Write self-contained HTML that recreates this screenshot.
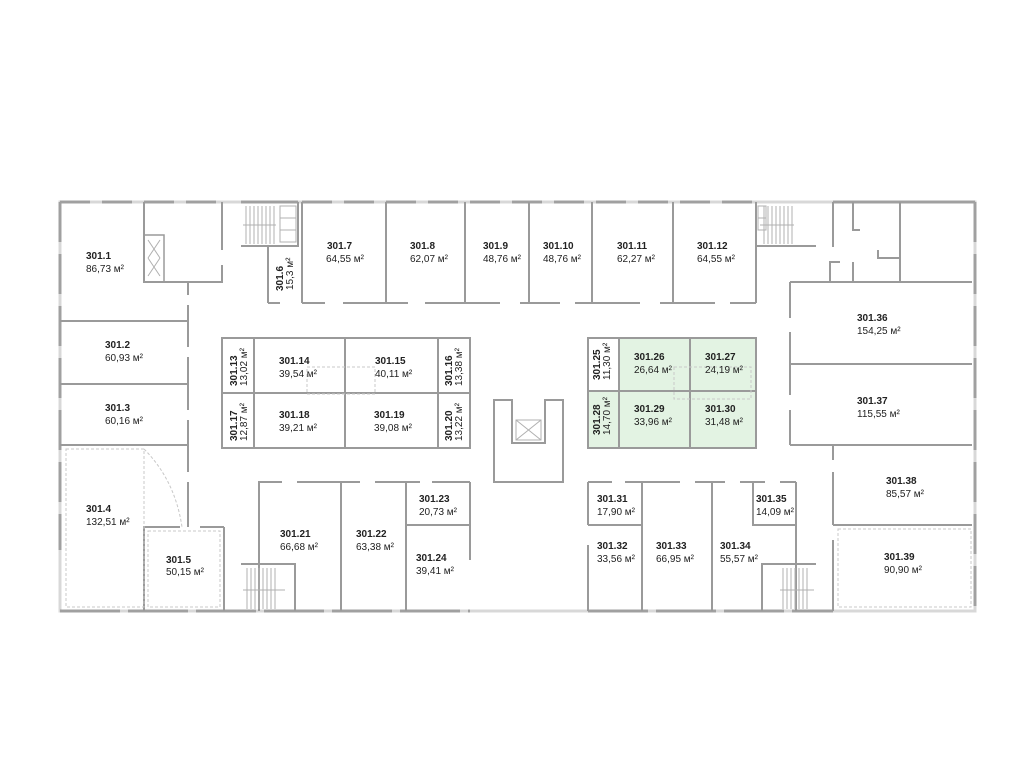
<!DOCTYPE html>
<html><head><meta charset="utf-8"><style>
html,body{margin:0;padding:0;background:#fff;}
svg{display:block;}
text{font-family:"Liberation Sans",sans-serif;font-size:10px;fill:#222;}
.b{font-weight:bold;}
</style></head><body>
<svg width="1024" height="768" viewBox="0 0 1024 768" xmlns="http://www.w3.org/2000/svg">
<!-- green rooms -->
<g fill="#e3f3e3" stroke="none">
<rect x="619" y="338" width="137" height="110"/>
<rect x="588" y="391" width="31" height="57"/>
</g>
<!-- outer walls light -->
<g stroke="#d8d8d8" stroke-width="3" fill="none">
<rect x="60" y="202" width="915" height="409"/>
</g>
<!-- outer walls dark dashes -->
<g stroke="#a0a0a0" stroke-width="3" fill="none">
<line x1="60" y1="202" x2="222" y2="202" stroke-dasharray="30 12"/>
<line x1="241" y1="202" x2="298" y2="202"/>
<line x1="302" y1="202" x2="755" y2="202" stroke-dasharray="30 12"/>
<line x1="833" y1="202" x2="975" y2="202"/>
<line x1="975" y1="202" x2="975" y2="611" stroke-dasharray="40 12"/>
<line x1="60" y1="202" x2="60" y2="550" stroke-dasharray="40 12"/>
<line x1="60" y1="611" x2="470" y2="611" stroke-dasharray="60 8"/>
<line x1="588" y1="611" x2="833" y2="611" stroke-dasharray="60 8"/>
</g>
<!-- interior walls -->
<g stroke="#9a9a9a" stroke-width="2" fill="none">
<!-- left column -->
<polyline points="144,202 144,282 222,282 222,265"/>
<line x1="222" y1="202" x2="222" y2="250"/>
<rect x="144" y="235" width="20" height="47" stroke-width="1.5"/>
<line x1="188" y1="282" x2="188" y2="295"/>
<line x1="188" y1="305" x2="188" y2="347"/>
<line x1="188" y1="357" x2="188" y2="410"/>
<line x1="188" y1="420" x2="188" y2="472"/>
<line x1="188" y1="482" x2="188" y2="527"/>
<line x1="60" y1="321" x2="188" y2="321"/>
<line x1="60" y1="384" x2="188" y2="384"/>
<line x1="60" y1="445" x2="188" y2="445"/>
<polyline points="144,611 144,527 180,527"/>
<line x1="200" y1="527" x2="224" y2="527"/>
<line x1="224" y1="527" x2="224" y2="611"/>
<!-- top row -->
<polyline points="241,246 298,246 298,202"/>
<line x1="268" y1="246" x2="268" y2="303"/>
<line x1="268" y1="303" x2="280" y2="303"/>
<line x1="302" y1="202" x2="302" y2="303"/>
<line x1="302" y1="303" x2="325" y2="303"/>
<line x1="343" y1="303" x2="408" y2="303"/>
<line x1="425" y1="303" x2="500" y2="303"/>
<line x1="520" y1="303" x2="560" y2="303"/>
<line x1="575" y1="303" x2="640" y2="303"/>
<line x1="660" y1="303" x2="715" y2="303"/>
<line x1="730" y1="303" x2="756" y2="303"/>
<line x1="386" y1="202" x2="386" y2="303"/>
<line x1="465" y1="202" x2="465" y2="303"/>
<line x1="529" y1="202" x2="529" y2="303"/>
<line x1="592" y1="202" x2="592" y2="303"/>
<line x1="673" y1="202" x2="673" y2="303"/>
<line x1="756" y1="202" x2="756" y2="303"/>
<polyline points="756,246 816,246"/>
<!-- right service -->
<polyline points="833,202 833,247"/>
<polyline points="853,202 853,230 860,230"/>
<polyline points="900,202 900,282"/>
<polyline points="878,250 878,258 900,258"/>
<polyline points="830,282 830,262 840,262"/>
<polyline points="853,262 853,282"/>
<polyline points="790,282 972,282"/>
<!-- right rooms -->
<line x1="790" y1="282" x2="790" y2="318"/>
<line x1="790" y1="332" x2="790" y2="395"/>
<line x1="790" y1="410" x2="790" y2="445"/>
<line x1="790" y1="364" x2="972" y2="364"/>
<line x1="790" y1="445" x2="972" y2="445"/>
<line x1="833" y1="445" x2="833" y2="460"/>
<line x1="833" y1="472" x2="833" y2="525"/>
<line x1="833" y1="525" x2="972" y2="525"/>
<line x1="833" y1="540" x2="833" y2="611"/>
<!-- left central block -->
<rect x="222" y="338" width="248" height="110"/>
<line x1="222" y1="393" x2="470" y2="393"/>
<line x1="254" y1="338" x2="254" y2="448"/>
<line x1="345" y1="338" x2="345" y2="448"/>
<line x1="438" y1="338" x2="438" y2="448"/>
<!-- right central block -->
<rect x="588" y="338" width="168" height="110"/>
<line x1="588" y1="391" x2="756" y2="391"/>
<line x1="619" y1="338" x2="619" y2="448"/>
<line x1="690" y1="338" x2="690" y2="448"/>
<!-- core -->
<polygon points="494,400 512,400 512,443 545,443 545,400 563,400 563,482 494,482"/>
<!-- bottom left -->
<polyline points="259,611 259,482 282,482"/>
<line x1="297" y1="482" x2="360" y2="482"/>
<line x1="375" y1="482" x2="420" y2="482"/>
<line x1="432" y1="482" x2="470" y2="482"/>
<line x1="341" y1="482" x2="341" y2="611"/>
<line x1="406" y1="482" x2="406" y2="611"/>
<line x1="406" y1="525" x2="470" y2="525"/>
<line x1="470" y1="482" x2="470" y2="560"/>
<polyline points="241,564 295,564 295,611"/>
<!-- bottom right -->
<line x1="588" y1="482" x2="612" y2="482"/>
<line x1="625" y1="482" x2="680" y2="482"/>
<line x1="695" y1="482" x2="725" y2="482"/>
<line x1="740" y1="482" x2="765" y2="482"/>
<line x1="780" y1="482" x2="796" y2="482"/>
<line x1="588" y1="482" x2="588" y2="525"/>
<line x1="588" y1="545" x2="588" y2="611"/>
<line x1="588" y1="525" x2="642" y2="525"/>
<line x1="642" y1="482" x2="642" y2="611"/>
<line x1="712" y1="482" x2="712" y2="611"/>
<polyline points="753,482 753,525 796,525"/>
<line x1="796" y1="482" x2="796" y2="611"/>
<polyline points="762,611 762,564 816,564"/>
</g>
<!-- stairs -->
<g stroke="#b0b0b0" stroke-width="1">
<path d="M246 206V244M250 206V244M254 206V244M258 206V244M262 206V244M266 206V244M270 206V244M274 206V244M243 225H276"/>
<path d="M280 206h16v12h-16zM280 218h16v12h-16zM280 230h16v12h-16z" fill="none"/>
<path d="M764 206V244M768 206V244M772 206V244M776 206V244M780 206V244M784 206V244M788 206V244M792 206V244M760 225H794"/>
<path d="M758 206h8v12h-8zM758 218h8v12h-8z" fill="none"/>
<path d="M247 568V609M251 568V609M255 568V609M259 568V609M263 568V609M267 568V609M271 568V609M275 568V609M243 590H285"/>
<path d="M783 568V609M787 568V609M791 568V609M795 568V609M799 568V609M803 568V609M807 568V609M780 590H814"/>
<path d="M148 240l12 18M160 240l-12 18M148 258l12 18M160 258l-12 18M516 420h25v20h-25zM516 420l25 20M541 420l-25 20" fill="none"/>
</g>
<!-- dashed features -->
<g stroke="#c8c8c8" stroke-width="1" fill="none" stroke-dasharray="3 2">
<rect x="66" y="449" width="78" height="158"/>
<path d="M144 449 Q175 480 182 527"/>
<rect x="148" y="531" width="72" height="76"/>
<rect x="838" y="529" width="133" height="78"/>
<rect x="307" y="367" width="68" height="27"/>
<rect x="674" y="367" width="77" height="32"/>
</g>
<!-- labels -->
<g>
<text class="b" x="86" y="259">301.1</text><text x="86" y="272">86,73 м²</text>
<text class="b" x="105" y="348">301.2</text><text x="105" y="361">60,93 м²</text>
<text class="b" x="105" y="411">301.3</text><text x="105" y="424">60,16 м²</text>
<text class="b" x="86" y="512">301.4</text><text x="86" y="525">132,51 м²</text>
<text class="b" x="166" y="563">301.5</text><text x="166" y="575">50,15 м²</text>
<text class="b" x="327" y="249">301.7</text><text x="326" y="262">64,55 м²</text>
<text class="b" x="410" y="249">301.8</text><text x="410" y="262">62,07 м²</text>
<text class="b" x="483" y="249">301.9</text><text x="483" y="262">48,76 м²</text>
<text class="b" x="543" y="249">301.10</text><text x="543" y="262">48,76 м²</text>
<text class="b" x="617" y="249">301.11</text><text x="617" y="262">62,27 м²</text>
<text class="b" x="697" y="249">301.12</text><text x="697" y="262">64,55 м²</text>
<text class="b" x="857" y="321">301.36</text><text x="857" y="334">154,25 м²</text>
<text class="b" x="857" y="404">301.37</text><text x="857" y="417">115,55 м²</text>
<text class="b" x="886" y="484">301.38</text><text x="886" y="497">85,57 м²</text>
<text class="b" x="884" y="560">301.39</text><text x="884" y="573">90,90 м²</text>
<text class="b" x="279" y="364">301.14</text><text x="279" y="377">39,54 м²</text>
<text class="b" x="375" y="364">301.15</text><text x="375" y="377">40,11 м²</text>
<text class="b" x="279" y="418">301.18</text><text x="279" y="431">39,21 м²</text>
<text class="b" x="374" y="418">301.19</text><text x="374" y="431">39,08 м²</text>
<text class="b" x="634" y="360">301.26</text><text x="634" y="373">26,64 м²</text>
<text class="b" x="705" y="360">301.27</text><text x="705" y="373">24,19 м²</text>
<text class="b" x="634" y="412">301.29</text><text x="634" y="425">33,96 м²</text>
<text class="b" x="705" y="412">301.30</text><text x="705" y="425">31,48 м²</text>
<text class="b" x="280" y="537">301.21</text><text x="280" y="550">66,68 м²</text>
<text class="b" x="356" y="537">301.22</text><text x="356" y="550">63,38 м²</text>
<text class="b" x="419" y="502">301.23</text><text x="419" y="515">20,73 м²</text>
<text class="b" x="416" y="561">301.24</text><text x="416" y="574">39,41 м²</text>
<text class="b" x="597" y="502">301.31</text><text x="597" y="515">17,90 м²</text>
<text class="b" x="597" y="549">301.32</text><text x="597" y="562">33,56 м²</text>
<text class="b" x="656" y="549">301.33</text><text x="656" y="562">66,95 м²</text>
<text class="b" x="720" y="549">301.34</text><text x="720" y="562">55,57 м²</text>
<text class="b" x="756" y="502">301.35</text><text x="756" y="515">14,09 м²</text>
<g transform="translate(283,291) rotate(-90)"><text class="b" x="0" y="0">301.6</text><text x="1" y="10">15,3 м²</text></g>
<g transform="translate(237,386) rotate(-90)"><text class="b" x="0" y="0">301.13</text><text x="0" y="10">13,02 м²</text></g>
<g transform="translate(237,441) rotate(-90)"><text class="b" x="0" y="0">301.17</text><text x="0" y="10">12,87 м²</text></g>
<g transform="translate(452,386) rotate(-90)"><text class="b" x="0" y="0">301.16</text><text x="0" y="10">13,38 м²</text></g>
<g transform="translate(452,441) rotate(-90)"><text class="b" x="0" y="0">301.20</text><text x="0" y="10">13,22 м²</text></g>
<g transform="translate(600,380) rotate(-90)"><text class="b" x="0" y="0">301.25</text><text x="0" y="10">11,30 м²</text></g>
<g transform="translate(600,435) rotate(-90)"><text class="b" x="0" y="0">301.28</text><text x="0" y="10">14,70 м²</text></g>
</g>
</svg>
</body></html>
